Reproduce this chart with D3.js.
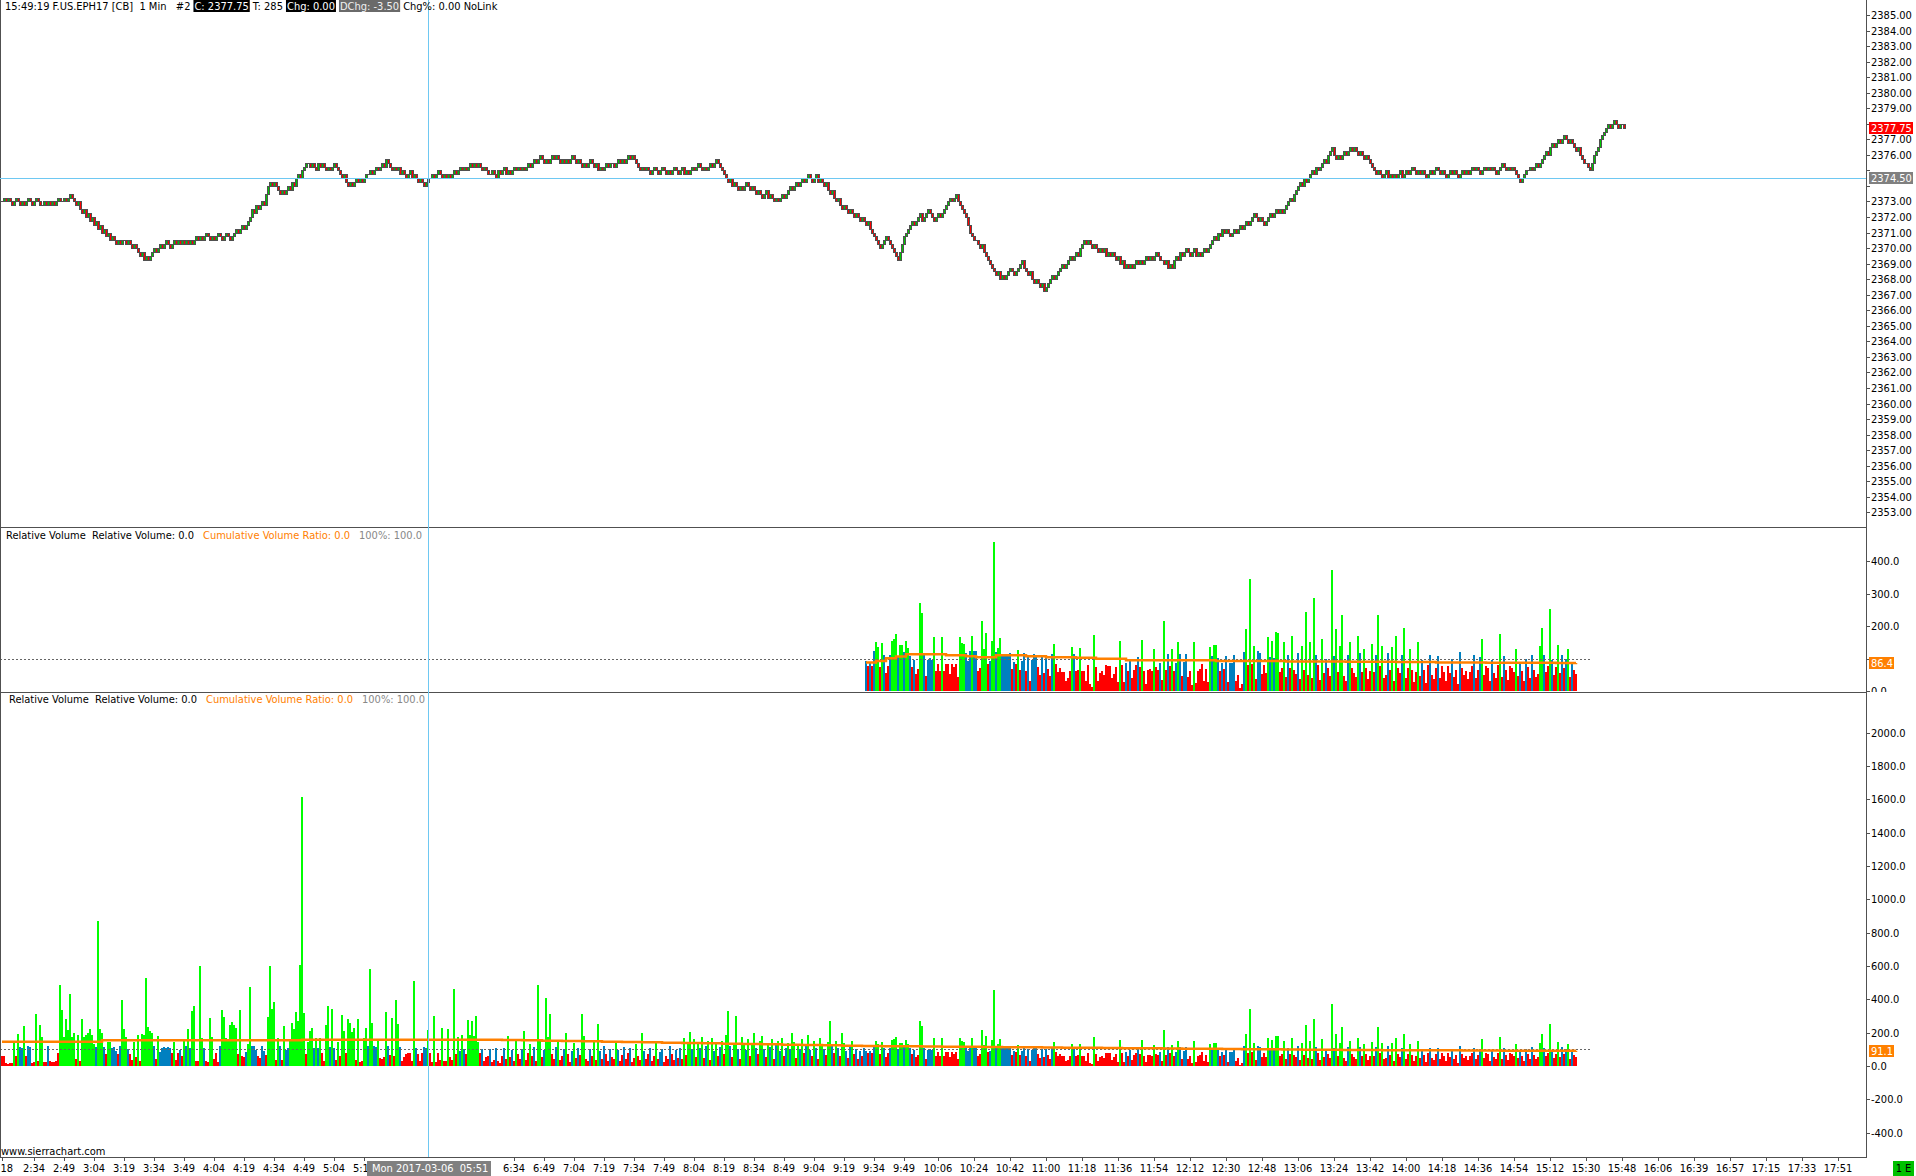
<!DOCTYPE html>
<html><head><meta charset="utf-8">
<script src="https://cdn.jsdelivr.net/npm/d3@7"></script>
<style>
html,body{margin:0;padding:0;background:#fff;overflow:hidden}
svg{display:block;font-family:"DejaVu Sans Condensed","DejaVu Sans",sans-serif;font-size:11px}
text{white-space:pre}
</style></head><body>
<svg id="chart" width="1916" height="1176"></svg>
<script>
// ---------------- DATA ----------------
// 1-minute closes, in quarter-point ticks above 2360.00 (first bar 2:18, last bar 15:49)
const closeTicks = [
52,53,52,53,52,51,52,53,52,51,52,51,52,53,52,51,52,53,52,51,51,52,51,52,51,52,51,52,53,52,52,
53,52,53,54,53,52,51,52,50,49,50,48,49,47,48,46,47,45,46,44,45,43,44,42,43,42,41,42,41,42,
42,41,42,41,40,41,40,39,38,39,37,38,37,38,39,40,39,40,41,40,41,42,41,40,41,42,41,42,41,42,41,
42,41,42,41,42,43,42,43,42,43,44,43,42,43,42,43,44,43,42,43,44,43,42,43,44,45,44,45,46,45,
46,47,48,50,49,51,50,51,52,51,54,56,57,56,57,56,55,54,55,54,55,56,55,57,56,58,59,58,60,61,62,
62,61,62,61,60,62,61,62,61,60,61,60,61,62,61,60,59,58,59,57,56,57,56,57,58,57,58,57,58,59,
59,60,59,60,61,60,61,62,61,63,62,61,60,61,60,61,59,60,59,58,59,60,58,59,58,57,58,57,56,57,58,
58,59,58,59,60,59,58,59,58,59,58,59,60,59,60,61,60,61,60,61,62,61,62,61,62,61,60,61,60,59,
59,60,59,58,60,59,60,61,59,60,59,60,61,60,61,60,61,60,61,62,61,62,63,62,63,64,63,62,63,62,63,
64,63,64,63,62,63,62,63,62,63,64,63,62,63,62,61,62,61,62,63,62,61,62,60,61,60,61,62,61,62,
62,61,62,63,62,63,62,63,64,63,64,63,62,61,60,61,60,61,60,59,60,61,60,59,60,61,60,59,60,59,60,
61,60,59,60,61,59,60,59,60,61,60,61,62,61,60,61,60,61,62,61,62,63,62,61,60,59,58,57,58,56,
57,56,55,56,55,56,57,56,55,56,55,54,55,54,53,54,55,53,54,53,52,53,52,53,54,53,54,55,56,55,56,
57,56,57,58,57,58,59,58,57,58,59,57,58,57,56,57,55,54,55,53,52,53,51,50,51,50,49,50,49,48,
49,48,47,48,47,46,47,45,44,43,42,41,40,41,42,43,42,41,40,39,38,37,39,41,43,44,45,46,47,46,47,
48,49,47,48,49,50,49,48,47,48,49,48,49,50,51,52,53,52,53,54,52,51,50,49,48,46,44,43,42,42,
41,40,41,39,38,37,36,35,34,33,34,32,33,32,33,34,35,34,33,34,35,36,37,35,34,33,34,32,31,32,31,
30,31,29,30,31,32,33,32,33,34,35,36,35,36,37,38,37,38,39,38,40,41,42,41,42,41,40,41,40,39,
40,39,40,38,39,38,39,38,37,38,36,37,35,36,35,36,35,36,37,36,37,36,37,38,37,38,37,38,39,38,37,
37,36,37,35,36,35,37,38,37,39,38,39,40,39,38,39,40,38,39,38,39,40,39,40,41,42,43,42,44,43,
45,44,45,44,43,44,45,44,45,46,45,46,47,46,47,48,49,48,47,48,47,46,47,48,49,48,49,50,49,50,49,
50,51,52,53,52,54,55,56,57,56,58,57,58,59,60,59,61,60,61,62,63,62,64,65,66,64,63,64,63,64,
65,64,65,66,65,66,65,64,65,64,63,64,63,62,61,60,59,60,59,58,59,60,58,59,58,59,58,59,60,58,59,
60,59,60,61,60,59,60,59,60,59,58,59,60,59,60,61,60,59,60,59,58,59,60,59,60,59,58,59,60,59,
60,59,60,61,60,61,60,59,60,61,60,61,60,61,60,59,60,61,62,61,60,61,60,61,60,59,58,57,58,59,60,
60,61,60,61,62,61,62,63,64,65,64,66,67,66,67,68,67,68,69,68,67,68,67,66,65,66,64,63,62,62,
61,60,62,64,65,66,68,69,70,71,72,71,72,73,72,71,72,72,71
];

// Relative volume (% of average) per 1-minute bar, 2:18 .. 15:25
const relVolume = [
60,60,16,14,16,18,146,60,192,116, 110,240,60,118,112,20,24,312,30,246,
172,22,26,118,28,22,24,30,80,486, 336,176,282,216,432,172,198,42,186,30,
282,172,186,200,222,186,130,114,872,222, 198,112,72,146,146,110,112,92,72,118,
396,222,172,104,70,36,146,56,186,30, 192,186,528,234,210,200,118,40,180,86,
110,112,106,114,108,78,146,36,76,96, 60,160,120,222,106,328,360,30,28,600,
168,106,30,26,288,172,40,78,22,120, 336,294,168,164,246,264,246,230,72,336,
60,52,86,132,474,118,120,96,60,46, 120,90,64,294,600,342,384,36,168,118,
36,240,96,106,160,258,222,324,270,606, 1613,318,72,146,210,228,106,168,106,168,
80,30,246,360,112,342,106,34,144,60, 306,210,80,282,258,204,228,36,282,24,
30,168,228,120,582,258,118,112,160,48, 40,54,324,118,66,288,60,396,252,116,
30,56,72,80,78,30,510,106,72,30, 78,112,110,216,76,24,300,24,80,36,
228,28,30,222,54,36,462,72,174,90, 186,104,72,276,186,270,180,300,144,80,
104,30,56,60,104,22,36,106,30,20,
60,110,40,180,56,96,30,150,72,44, 104,210,36,80,130,60,112,30,484,160,
52,98,410,176,315,70,40,116,150,34, 60,104,200,72,26,90,140,48,110,64,
315,178,40,30,100,58,146,36,250,90, 44,118,70,28,104,56,40,140,96,32,
64,112,40,76,106,24,50,130,60,36, 200,92,44,70,108,30,58,150,40,84,
100,26,60,44,118,72,36,96,50,110, 40,170,66,130,205,100,160,56,140,110,
176,48,120,150,34,166,90,138,60,112, 150,72,186,330,120,56,140,300,100,44,
176,140,96,160,60,130,200,110,70,150, 180,100,52,140,112,160,40,124,150,90,
170,60,110,140,100,200,144,50,130,104, 160,76,120,186,96,60,150,110,40,170,
130,100,64,146,270,120,80,150,106,60, 200,136,90,50,116,150,70,104,40,90,
60,110,
93,77,90,77,122,150,135,74,147,110, 55,76,110,154,160,175,104,141,141,120,
154,132,107,73,94,52,67,271,240,110, 45,94,101,94,166,61,82,61,166,61,
82,82,52,82,73,82,42,166,148,144, 117,92,122,169,122,122,61,70,215,128,
178,82,92,154,457,120,132,163,107,107, 107,107,117,67,88,82,126,64,92,117,
61,104,30,95,113,110,73,48,104,55, 104,67,45,113,144,82,58,70,58,58,
30,39,61,135,113,61,64,132,61,61, 30,79,20,11,172,73,30,55,61,48,
79,76,76,39,52,73,27,154,79,27, 86,61,95,39,64,79,104,73,157,61,
23,64,67,61,129,73,64,86,33,215, 64,113,76,129,61,86,150,113,45,88,
113,42,61,18,150,24,61,67,82,30, 67,27,135,107,141,141,101,61,86,67,
107,27,86,86,110,30,48,8,20,120, 190,79,345,82,138,36,122,116,52,79,
55,166,104,154,101,181,
180,60,72,150,44,110,70,170,64,52, 118,36,140,64,244,50,150,40,285,112,
80,34,160,56,100,72,46,372,108,190, 60,140,233,46,30,112,150,70,54,44,
170,116,58,130,70,36,62,146,60,112, 233,76,140,40,48,118,64,136,30,170,
72,56,110,195,40,70,130,64,28,60, 150,46,96,66,24,80,110,50,36,72,
108,40,76,60,30,76,54,100,44,66, 20,120,70,48,62,36,58,76,110,40,
64,104,160,50,78,72,30,96,56,40, 80,176,44,108,64,34,78,70,58,130,
46,90,62,30,100,74,40,112,66,44, 52,140,195,110,60,78,252,96,48,74,
143,56,112,70,100,130,44,90,64,52
];

// Cumulative volume ratio, whole session, sampled every 10 bars (+ last value)
const cumRatioAll = [
146,146,146,146,146,154,154,154,154,154, 154,154,154,154,154,158,158,158,158,158,
158,158,158,158,158,156,154,152,150,148, 146,144,142,140,138,136,134,132,130,128,
126,124,122,120,119,118,117,116,115,114, 113,112,111,110,109,108,107,106,105,104,
103,102,101,100,99,98,97,96,96,95, 95,94,94,93,93,92,92,91,91
];
const cumRatioAllLast = 91.1;
// Cumulative volume ratio, day session (from 9:30), sampled every 5 bars
const cumRatioDay = [
88,92,101,106,113,113,113,113,110,110,107,104,104,110,110,110,107,107,104,104,104,102,102,99,99,99,95,95,95,95,95,95,95,95,95,92,92,92,92,92,92,92,
91,91,91,91,91,91,90,90,90,90,90,89,89,89,89,88,88,88,88,88,87,87,87,87,87,87,87,86,86,86.4
];
const cumRatioDayLast = 86.4;

const timeLabels = ["2:18","2:34","2:49","3:04","3:19","3:34","3:49","4:04","4:19","4:34","4:49","5:04","5:19","5:34","5:49","6:04","6:19","6:34","6:49","7:04","7:19","7:34","7:49","8:04","8:19","8:34","8:49","9:04","9:19","9:34","9:49","10:06","10:24","10:42","11:00","11:18","11:36","11:54","12:12","12:30","12:48","13:06","13:24","13:42","14:00","14:18","14:36","14:54","15:12","15:30","15:48","16:06","16:39","16:57","17:15","17:33","17:51"];
const priceLabels = [2353,2354,2355,2356,2357,2358,2359,2360,2361,2362,2363,2364,2365,2366,2367,2368,2369,2370,2371,2372,2373,2374,2375,2376,2377,2378,2379,2380,2381,2382,2383,2384,2385];
const rel2Labels = [0,100,200,300,400];
const rel3Labels = [-400,-200,0,200,400,600,800,1000,1200,1400,1600,1800,2000];

const firstBarTime = "2:18";
const dayStartTime = "9:30";
const breakStart = "16:15", breakMinutes = 15;
const tickBase = 2360, tickSize = 0.25;
const lastPrice = 2377.75, crossPrice = 2374.50, crossTime = "5:51";
const crossLabel = "Mon 2017-03-06  05:51";
const highThreshold = 125, lowThreshold = 83;

// ---------------- LAYOUT ----------------
const AX = 1866;
const P1 = {t:0, b:527}, P2 = {t:527, b:692}, P3 = {t:692, b:1157};
const DATEBOX = {x:367, w:124};
const svg = d3.select('#chart');
const toMin = s => { const [h,m] = s.split(':').map(Number); return h*60+m; };
const barIndex = s => { let t = toMin(s) - toMin(firstBarTime); if (toMin(s) > toMin(breakStart)) t -= breakMinutes; return t; };
const DAY0 = barIndex(dayStartTime);

const x = d3.scaleLinear().domain([0, 932]).range([2, 1866]);
const yP = d3.scaleLinear().domain([2353, 2385]).range([512.3, 15]);
const y2 = d3.scaleLinear().domain([0, 400]).range([691, 561]);
const y3 = d3.scaleLinear().domain([-400, 2000]).range([1132.7, 732.7]);

const defs = svg.append('defs');
[['c1',P1],['c2',P2],['c3',P3]].forEach(([id,p]) => {
  defs.append('clipPath').attr('id', id).append('rect').attr('x',0).attr('y',p.t).attr('width',AX).attr('height',p.b-p.t);
});
[['a1',P1],['a2',P2],['a3',P3]].forEach(([id,p]) => {
  defs.append('clipPath').attr('id', id).append('rect').attr('x',AX).attr('y',p.t).attr('width',50).attr('height',p.b-p.t);
});
const cx = defs.append('clipPath').attr('id','cx');
cx.append('rect').attr('x',0).attr('y',P3.b).attr('width',DATEBOX.x).attr('height',30);
cx.append('rect').attr('x',DATEBOX.x+DATEBOX.w).attr('y',P3.b).attr('width',AX).attr('height',30);

svg.append('rect').attr('width',1916).attr('height',1176).attr('fill','#fff');

// ---------------- PRICE CANDLES ----------------
const gC = svg.append('g').attr('clip-path','url(#c1)');
const candles = closeTicks.map((c,i) => ({i, o: tickBase + (i ? closeTicks[i-1] : c)*tickSize, c: tickBase + c*tickSize}));
const OUT = '#505050';
candles.forEach(d => {
  const px = x(d.i);
  if (d.o === d.c) {
    gC.append('rect').attr('x', px-1).attr('y', Math.round(yP(d.c))).attr('width',3).attr('height',1).attr('fill',OUT);
  } else {
    const yt = Math.round(yP(Math.max(d.o,d.c))), yb = Math.round(yP(Math.min(d.o,d.c)));
    gC.append('rect').attr('x', px-1).attr('y', yt).attr('width',3).attr('height', yb-yt+1).attr('fill',OUT);
    gC.append('rect').attr('x', px).attr('y', yt+1).attr('width',1).attr('height', Math.max(0,yb-yt-1)).attr('fill', d.c > d.o ? '#00c800' : '#ff0000');
  }
});

// ---------------- RELATIVE VOLUME ----------------
const color = v => v >= highThreshold ? '#00ff00' : v >= lowThreshold ? '#0080c0' : '#ff0000';
function volPanel(clip, y, startIdx, cum, cumStep, cumLast) {
  const g = svg.append('g').attr('clip-path', `url(#${clip})`);
  const data = relVolume.map((v,i) => ({v,i})).filter(d => d.i >= startIdx);
  g.selectAll('rect.b').data(data).join('rect').attr('class','b')
    .attr('x', d => x(d.i)-1).attr('width', 2)
    .attr('y', d => Math.round(y(d.v))).attr('height', d => Math.round(y(0)) - Math.round(y(d.v)))
    .attr('fill', d => color(d.v));
  g.append('line').attr('x1',0).attr('x2',x(795)).attr('y1',Math.round(y(100))+0.5).attr('y2',Math.round(y(100))+0.5)
    .attr('stroke','#666').attr('stroke-dasharray','2,2');
  const pts = cum.map((v,k) => [startIdx + k*cumStep, v]);
  const lastI = relVolume.length - 1;
  if (pts[pts.length-1][0] < lastI) pts.push([lastI, cumLast]);
  g.append('path').attr('d', d3.line().x(d => x(d[0])).y(d => y(d[1])).curve(d3.curveStepAfter)(pts))
    .attr('fill','none').attr('stroke','#ff8000').attr('stroke-width',2.5);
}
volPanel('c2', y2, DAY0, cumRatioDay, 5, cumRatioDayLast);
volPanel('c3', y3, 0, cumRatioAll, 10, cumRatioAllLast);

// ---------------- FRAME ----------------
const frame = svg.append('g').attr('stroke','#505050').attr('stroke-width',1);
frame.append('line').attr('x1',0.5).attr('x2',0.5).attr('y1',0).attr('y2',P3.b);
frame.append('line').attr('x1',AX+0.5).attr('x2',AX+0.5).attr('y1',0).attr('y2',P3.b+0.5);
[P1.b, P2.b, P3.b].forEach(yy => frame.append('line').attr('x1',0).attr('x2',AX+1).attr('y1',yy+0.5).attr('y2',yy+0.5));

// ---------------- VALUE BOXES (positions) ----------------
const valueBoxes = [
  {y: yP(lastPrice), txt: lastPrice.toFixed(2), bg:'#ff0000', w:44},
  {y: yP(crossPrice), txt: crossPrice.toFixed(2), bg:'#808080', w:44},
  {y: y2(cumRatioDayLast), txt: cumRatioDayLast.toFixed(1), bg:'#ff8000', w:25},
  {y: y3(cumRatioAllLast), txt: cumRatioAllLast.toFixed(1), bg:'#ff8000', w:25}
];
const coveredByBox = yy => valueBoxes.some(b => Math.abs(b.y - yy) < 9);

// ---------------- AXES ----------------
function rightAxis(clip, scale, vals, fmt) {
  const g = svg.append('g').attr('clip-path', `url(#${clip})`);
  vals.forEach(v => {
    const yy = Math.round(scale(v));
    g.append('line').attr('x1',AX+1).attr('x2',AX+4).attr('y1',yy+0.5).attr('y2',yy+0.5).attr('stroke','#505050');
    if (!coveredByBox(yy)) g.append('text').attr('x',AX+5).attr('y',yy+4).attr('fill','#000').text(fmt(v));
  });
}
rightAxis('a1', yP, priceLabels, v => v.toFixed(2));
rightAxis('a2', y2, rel2Labels, v => v.toFixed(1));
rightAxis('a3', y3, rel3Labels, v => v.toFixed(1));

// time axis (labels fully under the date box are hidden, partially covered ones are clipped)
const gx = svg.append('g').attr('clip-path','url(#cx)');
timeLabels.forEach(s => {
  const xx = x(barIndex(s));
  if (xx > DATEBOX.x + 6 && xx < DATEBOX.x + DATEBOX.w - 6) return;
  gx.append('line').attr('x1',xx+0.5).attr('x2',xx+0.5).attr('y1',P3.b+1).attr('y2',P3.b+4).attr('stroke','#505050');
  gx.append('text').attr('x',xx).attr('y',1172).attr('text-anchor','middle').attr('fill','#000').text(s);
});

// ---------------- CROSSHAIR ----------------
const CH = '#6ec8f2';
const cxh = x(barIndex(crossTime)) + 0.5;
svg.append('line').attr('x1',cxh).attr('x2',cxh).attr('y1',0).attr('y2',P3.b).attr('stroke',CH);
const cyh = Math.round(yP(crossPrice)) + 0.5;
svg.append('line').attr('x1',0).attr('x2',AX).attr('y1',cyh).attr('y2',cyh).attr('stroke',CH);

valueBoxes.forEach(b => {
  svg.append('rect').attr('x',AX+3).attr('y',Math.round(b.y)-6).attr('width',b.w).attr('height',12).attr('fill',b.bg);
  svg.append('text').attr('x',AX+5).attr('y',Math.round(b.y)+4).attr('fill','#fff').text(b.txt);
});

// ---------------- TEXT HEADERS ----------------
function run(y, parts) {
  let end = 0;
  parts.forEach(p => {
    const x0 = Math.max(p.x, end + 3);
    const t = svg.append('text').attr('x', x0 + (p.bg ? 1 : 0)).attr('y', y).attr('fill', p.fill || '#000').text(p.t);
    const w = t.node().getComputedTextLength();
    if (p.bg) {
      svg.insert('rect', () => t.node()).attr('x', x0).attr('y', y-10).attr('width', w+2).attr('height', 12).attr('fill', p.bg);
      end = x0 + w + 2;
    } else end = x0 + w;
  });
}
run(10, [
  {x:5, t:"15:49:19 F.US.EPH17 [CB]  1 Min   #2"},
  {x:191, t:"C: 2377.75", bg:'#000', fill:'#fff'},
  {x:246, t:"T: 285"},
  {x:278, t:"Chg: 0.00", bg:'#000', fill:'#fff'},
  {x:329, t:"DChg: -3.50", bg:'#6a6a6a', fill:'#f0f0f0'},
  {x:393, t:"Chg%: 0.00 NoLink"}
]);
run(539, [
  {x:6, t:"Relative Volume  Relative Volume: 0.0"},
  {x:203, t:"Cumulative Volume Ratio: 0.0", fill:'#ff8000'},
  {x:359, t:"100%: 100.0", fill:'#888'}
]);
run(703, [
  {x:9, t:"Relative Volume  Relative Volume: 0.0"},
  {x:206, t:"Cumulative Volume Ratio: 0.0", fill:'#ff8000'},
  {x:362, t:"100%: 100.0", fill:'#888'}
]);
svg.append('text').attr('x',1).attr('y',1155).attr('fill','#000').text('www.sierrachart.com');

// date box at crosshair
svg.append('rect').attr('x',DATEBOX.x).attr('y',1161).attr('width',DATEBOX.w).attr('height',15).attr('fill','#808080');
svg.append('text').attr('x',DATEBOX.x+5).attr('y',1172).attr('fill','#fff').text(crossLabel);
// status box
svg.append('rect').attr('x',1893).attr('y',1161).attr('width',21).attr('height',15).attr('fill','#00c000');
svg.append('text').attr('x',1903.5).attr('y',1172).attr('text-anchor','middle').attr('fill','#000').text('1 E');
</script>
</body></html>
